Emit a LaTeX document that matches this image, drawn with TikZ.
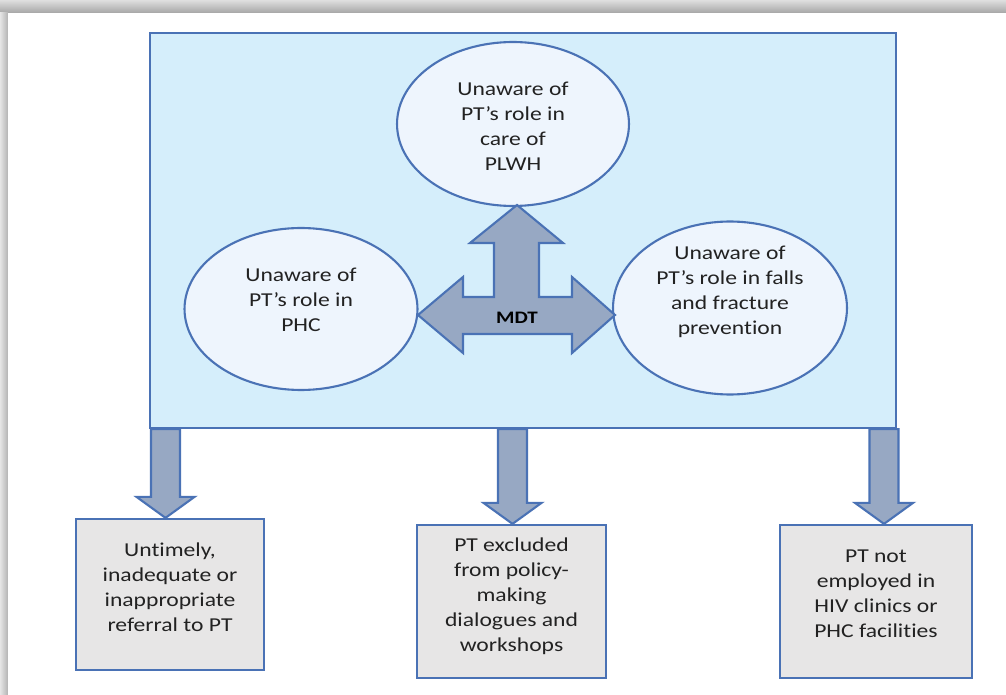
\documentclass[tikz,border=0pt]{standalone}
\usepackage{fontspec}
\setmainfont{Carlito}[FakeStretch=1.2, Ligatures={TeX,NoCommon}]
\usetikzlibrary{shapes.geometric}
\definecolor{edgeblue}{HTML}{4A72B5}
\definecolor{panelfill}{HTML}{D5EEFB}
\definecolor{bubblefill}{HTML}{EEF5FD}
\definecolor{arrowfill}{HTML}{97A8C3}
\definecolor{boxgray}{HTML}{E7E6E6}
\definecolor{inkgray}{HTML}{222222}
\tikzset{
  note/.style={align=center, text=inkgray, inner sep=0pt, font=\fontsize{11.2}{14.2}\selectfont},
  bubble/.style={ellipse, draw=edgeblue, fill=bubblefill, line width=1.2pt, inner sep=0pt},
  outcome/.style={rectangle, draw=edgeblue, fill=boxgray, line width=1.3pt, inner sep=0pt},
  blockarrow/.style={draw=edgeblue, fill=arrowfill, line width=1.2pt, line join=miter}
}
% block arrow from panel bottom down to a box: #1 x, #2 top node, #3 target box
\newcommand{\dropArrow}[3]{%
  \coordinate (ax) at (#1,0);
  \coordinate (hb) at ([yshift=0.42cm]ax |- #3.north);
  \draw[blockarrow] ([xshift=-0.29cm]ax |- #2.south) -- ([xshift=-0.29cm]hb)
    -- ([xshift=-0.58cm]hb) -- (ax |- #3.north) -- ([xshift=0.58cm]hb)
    -- ([xshift=0.29cm]hb) -- ([xshift=0.29cm]ax |- #2.south) -- cycle;
}
\begin{document}
\begin{tikzpicture}[x=0.02cm, y=-0.02cm]
  \useasboundingbox (0,0) rectangle (1006,695);
  % frame shadow
  \shade[top color=gray!25, bottom color=gray!70] (0,0) rectangle (1006,13);
  \shade[left color=gray!20, right color=gray!60] (0,13) rectangle (8,695);
  \fill[white] (8,13) rectangle (1006,695);

  \node[rectangle, draw=edgeblue, fill=panelfill, line width=1.3pt,
        minimum width=14.92cm, minimum height=7.9cm] (panel) at (523,230.5) {};

  \node[bubble, minimum width=4.64cm, minimum height=3.28cm,
        label={[note, yshift=-1.5pt]center:{Unaware of\\PT’s role in\\care of\\PLWH}}] (plwh) at (513,124) {};
  \node[bubble, minimum width=4.66cm, minimum height=3.24cm,
        label={[note, yshift=5pt]center:{Unaware of\\PT’s role in\\PHC}}] (phc) at (301,309) {};
  \node[bubble, minimum width=4.68cm, minimum height=3.46cm,
        label={[note, yshift=9pt]center:{Unaware of\\PT’s role in falls\\and fracture\\prevention}}] (falls) at (730,308) {};

  % three-way arrow
  \draw[blockarrow] (517,205) -- (563,243) -- (539,243) -- (539,297) -- (572,297)
    -- (572,277) -- (615,315) -- (572,353) -- (572,334) -- (463,334) -- (463,353)
    -- (418,315) -- (463,277) -- (463,297) -- (494,297) -- (494,243) -- (470,243) -- cycle;
  \node[font=\fontsize{10}{12}\bfseries, text=black] (mdt) at (517,318) {MDT};

  \node[outcome, minimum width=3.76cm, minimum height=3.02cm,
        label={[note, yshift=4pt]center:{Untimely,\\inadequate or\\inappropriate\\referral to PT}}] (referral) at (170,594.5) {};
  \node[outcome, minimum width=3.78cm, minimum height=3.06cm,
        label={[note, yshift=3pt]center:{PT excluded\\from policy-\\making\\dialogues and\\workshops}}] (policy) at (511.5,601.5) {};
  \node[outcome, minimum width=3.84cm, minimum height=3.06cm,
        label={[note, yshift=4.5pt]center:{PT not\\employed in\\HIV clinics or\\PHC facilities}}] (employ) at (876,601.5) {};

  \dropArrow{165.5}{panel}{referral}
  \dropArrow{512.5}{panel}{policy}
  \dropArrow{884}{panel}{employ}
\end{tikzpicture}
\end{document}
